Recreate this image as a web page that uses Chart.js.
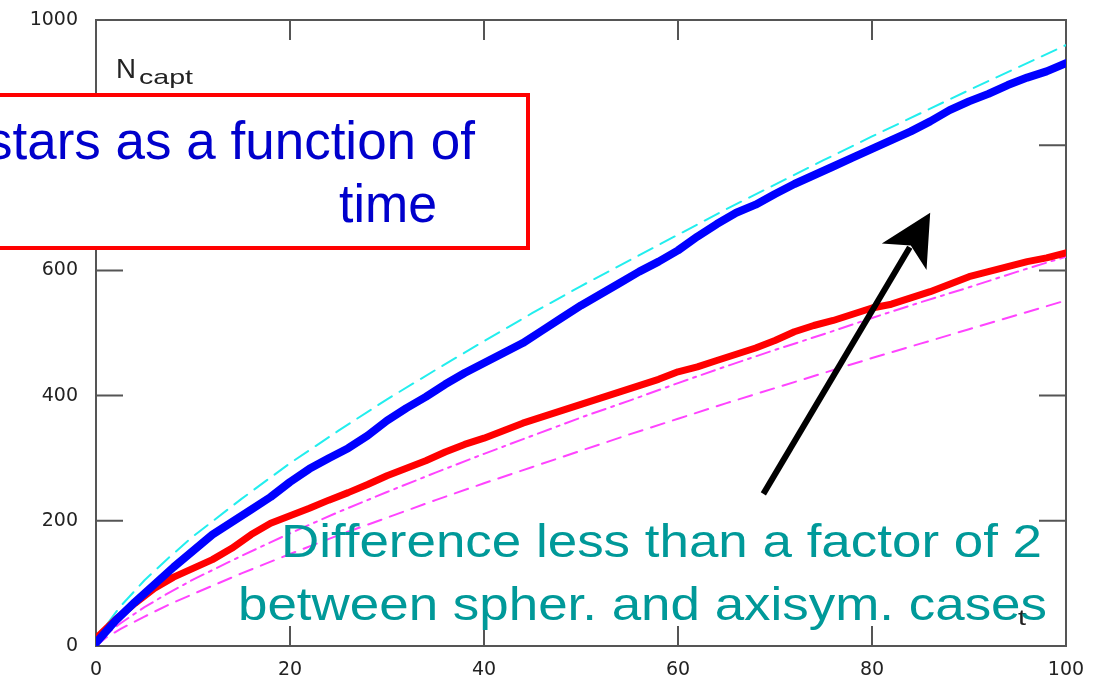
<!DOCTYPE html>
<html>
<head>
<meta charset="utf-8">
<title>N_capt vs t</title>
<script src="https://cdn.jsdelivr.net/npm/chart.js@4.4.1/dist/chart.umd.min.js"></script>
<style>
  html, body { margin: 0; padding: 0; background: #fff; }
  #chart { display: block; }
</style>
</head>
<body>
<canvas id="chart" width="1104" height="677"></canvas>
<script>
// Simulated captured-star counts (thick curves), sampled every 2 time units
const tSim = [0, 2, 4, 6, 8, 10, 12, 14, 16, 18, 20, 22, 24, 26, 28, 30, 32, 34, 36, 38, 40,
  42, 44, 46, 48, 50, 52, 54, 56, 58, 60, 62, 64, 66, 68, 70, 72, 74, 76, 78, 80,
  82, 84, 86, 88, 90, 92, 94, 96, 98, 100];
const blueSim = [5, 40, 70, 98, 126, 152, 178, 198, 218, 238, 262, 283, 300, 316, 336, 360, 380, 398, 418, 436, 452,
  468, 484, 504, 524, 544, 562, 580, 598, 614, 632, 654, 674, 692, 705, 722, 738, 752, 766, 780, 794,
  808, 822, 838, 856, 870, 882, 896, 908, 918, 931];
const redSim = [12, 42, 68, 92, 110, 124, 138, 156, 178, 196, 208, 220, 233, 245, 258, 272, 284, 296, 310, 322, 332,
  344, 356, 366, 376, 386, 396, 406, 416, 426, 438, 446, 456, 466, 476, 488, 502, 512, 520, 530, 540,
  546, 556, 566, 578, 590, 598, 606, 614, 620, 628];

// Model curves (thin dashed lines)
const tModel = [0, 1, 2.5, 5, 7.5, 10, 15, 20, 25, 30, 35, 40, 45, 50, 55, 60, 65, 70, 75, 80, 85, 90, 95, 100];
const cyanModel = [0, 32, 63, 105, 141, 175, 235, 292, 344, 394, 441, 487, 532, 575, 616, 657, 698, 737, 776, 814, 851, 888, 924, 960];
const dashDotModel = [0, 18, 36, 62, 85, 106, 144, 180, 214, 246, 277, 307, 336, 365, 392, 420, 447, 473, 498, 524, 549, 573, 598, 622];
const dashedModel = [0, 13, 27, 47, 66, 83, 116, 147, 177, 205, 233, 260, 286, 312, 338, 363, 388, 412, 436, 460, 483, 506, 529, 552];

const xTicks = [0, 20, 40, 60, 80, 100];
const yTicks = [0, 200, 400, 600, 800, 1000];

const pts = (xs, ys) => xs.map((x, i) => ({ x: x, y: ys[i] }));

// draw a line of text squeezed/stretched to a given width
function fitText(ctx, text, x, y, font, width, color) {
  ctx.save();
  ctx.font = font;
  ctx.fillStyle = color;
  ctx.textBaseline = 'alphabetic';
  ctx.textAlign = 'left';
  const w = ctx.measureText(text).width;
  ctx.translate(x, y);
  ctx.scale(width / w, 1);
  ctx.fillText(text, 0, 0);
  ctx.restore();
}

// frame around the plot with inward tick marks
const framePlugin = {
  id: 'frame',
  beforeDatasetsDraw(chart) {
    const { ctx, chartArea: a, scales } = chart;
    ctx.save();
    ctx.strokeStyle = '#555';
    ctx.lineWidth = 2;
    ctx.strokeRect(a.left, a.top, a.right - a.left, a.bottom - a.top);
    ctx.beginPath();
    xTicks.slice(1, -1).forEach(v => {
      const px = scales.x.getPixelForValue(v);
      ctx.moveTo(px, a.bottom); ctx.lineTo(px, a.bottom - 20);
      ctx.moveTo(px, a.top); ctx.lineTo(px, a.top + 20);
    });
    yTicks.slice(1, -1).forEach(v => {
      const py = scales.y.getPixelForValue(v);
      ctx.moveTo(a.left, py); ctx.lineTo(a.left + 27, py);
      ctx.moveTo(a.right, py); ctx.lineTo(a.right - 27, py);
    });
    ctx.stroke();
    ctx.restore();
  }
};

// axis names, callout box, arrow and comment text
const notesPlugin = {
  id: 'notes',
  afterDraw(chart) {
    const { ctx, scales } = chart;
    const sans = '"Liberation Sans", Arial, sans-serif';

    fitText(ctx, 'N', 116, 78, '27px ' + sans, 20, '#222');
    fitText(ctx, 'capt', 139, 84, '21px ' + sans, 54, '#222');
    fitText(ctx, 't', 1018, 625, '22px ' + sans, 8, '#222');

    // arrow pointing from the comment up towards the blue curve
    const x0 = scales.x.getPixelForValue(68.8), y0 = scales.y.getPixelForValue(243);
    const x1 = scales.x.getPixelForValue(86.0), y1 = scales.y.getPixelForValue(692);
    const ang = Math.atan2(y1 - y0, x1 - x0);
    const ux = Math.cos(ang), uy = Math.sin(ang);
    ctx.save();
    ctx.strokeStyle = '#000';
    ctx.fillStyle = '#000';
    ctx.lineWidth = 6;
    ctx.beginPath();
    ctx.moveTo(x0, y0);
    ctx.lineTo(x1 - ux * 40, y1 - uy * 40);
    ctx.stroke();
    ctx.beginPath();
    ctx.moveTo(x1, y1);
    ctx.lineTo(x1 - ux * 51 - uy * 26, y1 - uy * 51 + ux * 26);
    ctx.lineTo(x1 - ux * 38, y1 - uy * 38);
    ctx.lineTo(x1 - ux * 51 + uy * 26, y1 - uy * 51 - ux * 26);
    ctx.closePath();
    ctx.fill();
    ctx.restore();

    // comment on the ratio of the two cases
    fitText(ctx, 'Difference less than a factor of 2', 281, 557, '47px ' + sans, 761, '#009999');
    fitText(ctx, 'between spher. and axisym. cases', 238, 620, '47px ' + sans, 809, '#009999');

    // red callout box (runs off the left edge)
    ctx.save();
    ctx.fillStyle = '#fff';
    ctx.strokeStyle = '#ff0000';
    ctx.lineWidth = 4;
    ctx.fillRect(-10, 95, 538, 153);
    ctx.strokeRect(-10, 95, 538, 153);
    ctx.restore();
    fitText(ctx, 'stars as a function of', -14, 159, '53px ' + sans, 489, '#0000cc');
    fitText(ctx, 'time', 339, 222, '53px ' + sans, 98, '#0000cc');
  }
};

const tickFont = { family: '"DejaVu Sans", sans-serif', size: 19 };

new Chart(document.getElementById('chart'), {
  type: 'line',
  data: {
    datasets: [
      { data: pts(tSim, blueSim), borderColor: '#0000ff', borderWidth: 8 },
      { data: pts(tSim, redSim), borderColor: '#ff0000', borderWidth: 7 },
      { data: pts(tModel, cyanModel), borderColor: '#22eeee', borderWidth: 2, borderDash: [16, 9] },
      { data: pts(tModel, dashDotModel), borderColor: '#ff44ff', borderWidth: 2, borderDash: [14, 6, 3, 6] },
      { data: pts(tModel, dashedModel), borderColor: '#ff44ff', borderWidth: 2, borderDash: [14, 9] }
    ]
  },
  options: {
    responsive: false,
    animation: false,
    layout: { padding: { top: 20, right: 38, left: 0, bottom: 0 } },
    elements: {
      point: { radius: 0 },
      line: { tension: 0, fill: false, borderCapStyle: 'round', borderJoinStyle: 'round' }
    },
    plugins: { legend: { display: false }, tooltip: { enabled: false } },
    scales: {
      x: {
        type: 'linear', min: 0, max: 100,
        grid: { display: false, drawTicks: false },
        border: { display: false },
        ticks: { stepSize: 20, padding: 13, color: '#222', font: tickFont, maxRotation: 0, callback: v => String(v) },
        afterFit: s => { s.height = 31; s.paddingLeft = 0; s.paddingRight = 0; }
      },
      y: {
        type: 'linear', min: 0, max: 1000,
        grid: { display: false, drawTicks: false },
        border: { display: false },
        ticks: { stepSize: 200, padding: 18, color: '#222', font: tickFont, callback: v => String(v) },
        afterFit: s => { s.width = 96; s.paddingTop = 0; s.paddingBottom = 0; }
      }
    }
  },
  plugins: [framePlugin, notesPlugin]
});
</script>
</body>
</html>
